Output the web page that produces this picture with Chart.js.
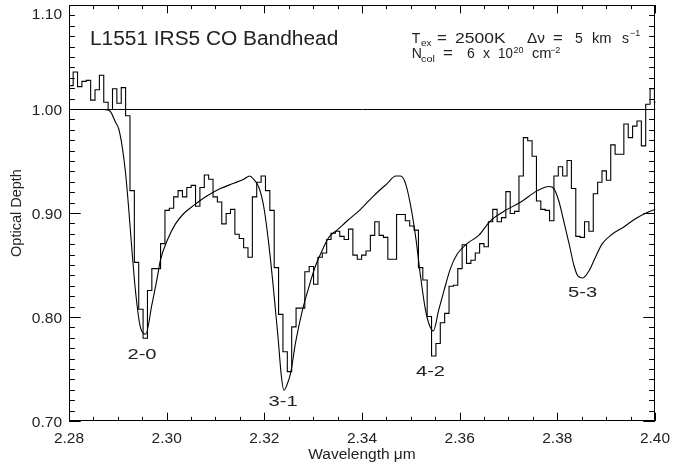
<!DOCTYPE html>
<html>
<head>
<meta charset="utf-8">
<script src="https://cdn.jsdelivr.net/npm/chart.js@4.4.1/dist/chart.umd.min.js"></script>
<style>
  html, body { margin: 0; padding: 0; background: #fff; }
  canvas { display: block; }
</style>
</head>
<body>
<canvas id="co-chart" width="673" height="468"></canvas>
<script>
// --- DATA ---
// observed spectrum, bin centres (um) and optical depth per bin
const wavelengths = [
  2.27941, 2.28030, 2.28120, 2.28209, 2.28299, 2.28388, 2.28478, 2.28567, 2.28657, 2.28746,
  2.28836, 2.28925, 2.29015, 2.29104, 2.29194, 2.29283, 2.29373, 2.29462, 2.29552, 2.29641,
  2.29731, 2.29820, 2.29910, 2.29999, 2.30089, 2.30178, 2.30268, 2.30357, 2.30447, 2.30536,
  2.30626, 2.30715, 2.30805, 2.30894, 2.30984, 2.31073, 2.31163, 2.31252, 2.31342, 2.31431,
  2.31521, 2.31610, 2.31700, 2.31789, 2.31879, 2.31968, 2.32058, 2.32147, 2.32237, 2.32326,
  2.32416, 2.32505, 2.32595, 2.32684, 2.32774, 2.32863, 2.32953, 2.33042, 2.33132, 2.33221,
  2.33311, 2.33400, 2.33490, 2.33579, 2.33669, 2.33758, 2.33848, 2.33937, 2.34027, 2.34116,
  2.34206, 2.34295, 2.34385, 2.34474, 2.34564, 2.34653, 2.34743, 2.34832, 2.34922, 2.35011,
  2.35101, 2.35190, 2.35280, 2.35369, 2.35459, 2.35548, 2.35638, 2.35727, 2.35817, 2.35906,
  2.35996, 2.36085, 2.36175, 2.36264, 2.36354, 2.36443, 2.36533, 2.36622, 2.36712, 2.36801,
  2.36891, 2.36980, 2.37070, 2.37159, 2.37249, 2.37338, 2.37428, 2.37517, 2.37607, 2.37696,
  2.37786, 2.37875, 2.37965, 2.38054, 2.38144, 2.38233, 2.38323, 2.38412, 2.38502, 2.38591,
  2.38681, 2.38770, 2.38860, 2.38949, 2.39039, 2.39128, 2.39218, 2.39307, 2.39397, 2.39486,
  2.39576, 2.39665, 2.39755, 2.39844, 2.39934, 2.40023
];
const opticalDepth = [
  1.023, 1.023, 1.036, 1.022, 1.027, 1.028, 1.009, 1.019, 1.033, 1.007,
  1.000, 1.020, 1.006, 1.021, 0.994, 0.922, 0.853, 0.808, 0.780, 0.826,
  0.847, 0.847, 0.871, 0.903, 0.905, 0.916, 0.922, 0.916, 0.925, 0.927,
  0.907, 0.925, 0.937, 0.933, 0.916, 0.911, 0.890, 0.900, 0.904, 0.880,
  0.876, 0.867, 0.858, 0.916, 0.930, 0.936, 0.922, 0.903, 0.848, 0.803,
  0.767, 0.748, 0.791, 0.809, 0.809, 0.844, 0.849, 0.832, 0.858, 0.862,
  0.875, 0.881, 0.883, 0.878, 0.875, 0.885, 0.860, 0.856, 0.860, 0.864,
  0.879, 0.892, 0.879, 0.877, 0.856, 0.856, 0.899, 0.899, 0.893, 0.888,
  0.884, 0.848, 0.836, 0.801, 0.763, 0.775, 0.795, 0.804, 0.830, 0.831,
  0.847, 0.870, 0.852, 0.855, 0.862, 0.871, 0.868, 0.892, 0.904, 0.892,
  0.896, 0.921, 0.900, 0.902, 0.936, 0.973, 0.970, 0.955, 0.912, 0.904,
  0.903, 0.893, 0.936, 0.945, 0.936, 0.951, 0.924, 0.878, 0.877, 0.892,
  0.883, 0.919, 0.930, 0.941, 0.932, 0.966, 0.957, 0.957, 0.986, 0.973,
  0.984, 0.989, 0.965, 1.005, 1.020, 1.007
];

// model (Tex = 2500K, dv = 5 km/s, Ncol = 6e20)
const modelWave = [
  2.2800, 2.2870, 2.2878, 2.2884, 2.2894, 2.2901, 2.2908, 2.2915, 2.2921, 2.2928,
  2.2935, 2.2945, 2.2956, 2.2969, 2.2980, 2.2986, 2.3000, 2.3017, 2.3034, 2.3055,
  2.3082, 2.3109, 2.3136, 2.3157, 2.3169, 2.3177, 2.3188, 2.3198, 2.3208, 2.3218,
  2.3227, 2.3234, 2.3239, 2.3246, 2.3253, 2.3263, 2.3277, 2.3290, 2.3304, 2.3317,
  2.3331, 2.3348, 2.3369, 2.3396, 2.3423, 2.3451, 2.3468, 2.3478, 2.3488, 2.3498,
  2.3509, 2.3519, 2.3529, 2.3536, 2.3545, 2.3556, 2.3567, 2.3580, 2.3594, 2.3614,
  2.3638, 2.3662, 2.3689, 2.3724, 2.3758, 2.3782, 2.3792, 2.3802, 2.3812, 2.3823,
  2.3833, 2.3841, 2.3851, 2.3864, 2.3877, 2.3891, 2.3911, 2.3935, 2.3959, 2.3983,
  2.4000
];
const modelDepth = [
  1.000, 1.000, 0.9995, 0.998, 0.988, 0.981, 0.964, 0.938, 0.906, 0.864,
  0.826, 0.791, 0.784, 0.813, 0.839, 0.855, 0.874, 0.890, 0.900, 0.908,
  0.917, 0.924, 0.929, 0.933, 0.936, 0.933, 0.925, 0.906, 0.871, 0.826,
  0.781, 0.743, 0.730, 0.736, 0.747, 0.776, 0.807, 0.829, 0.850, 0.864,
  0.877, 0.884, 0.893, 0.904, 0.917, 0.929, 0.936, 0.936, 0.929, 0.909,
  0.877, 0.839, 0.807, 0.794, 0.787, 0.807, 0.826, 0.847, 0.861, 0.871,
  0.879, 0.893, 0.902, 0.911, 0.922, 0.926, 0.924, 0.912, 0.893, 0.871,
  0.850, 0.840, 0.838, 0.845, 0.858, 0.871, 0.880, 0.887, 0.895, 0.901,
  0.904
];

const continuumLevel = 1.00;

// band head labels
const bandLabels = ['2-0', '3-1', '4-2', '5-3'];
const bandWave = [2.29495, 2.32383, 2.35403, 2.38516];
const bandDepth = [0.7596, 0.7144, 0.7428, 0.8192];

// axis ticks
const xTicks = [2.28, 2.30, 2.32, 2.34, 2.36, 2.38, 2.40];
const yTicks = [0.70, 0.80, 0.90, 1.00, 1.10];
const xMinorStep = 0.005;
const yMinorStep = 0.01;

const FONT = '"Liberation Sans", Arial, sans-serif';

// --- HELPERS ---
const drawText = (ctx, str, x, y, size, align = 'left', sx = 1, rot = 0) => {
    ctx.save();
    ctx.font = size + 'px ' + FONT;
    ctx.textAlign = align;
    ctx.textBaseline = 'alphabetic';
    ctx.translate(x, y);
    if (rot) ctx.rotate(rot);
    ctx.scale(sx, 1);
    ctx.fillText(str, 0, 0);
    ctx.restore();
};

// half pixel shift so 1px lines on whole pixel values stay crisp
const crispLines = {
    id: 'crispLines',
    beforeDatasetsDraw(chart) { chart.ctx.save(); chart.ctx.translate(0.5, 0.5); },
    afterDatasetsDraw(chart) { chart.ctx.restore(); }
};

// --- IDL STYLE FRAME, TICKS AND TEXT ---
const idlFrame = {
    id: 'idlFrame',
    afterDraw(chart) {
        const { ctx, chartArea: a, scales: { x, y } } = chart;
        ctx.save();
        ctx.strokeStyle = '#000';
        ctx.fillStyle = '#222';
        ctx.lineWidth = 1;
        ctx.strokeRect(a.left + 0.5, a.top + 0.5, a.right - a.left - 1, a.bottom - a.top - 1);

        const xLen = 0.02 * (a.bottom - a.top);
        const yLen = 0.02 * (a.right - a.left);
        const tickX = (v, len) => {
            const px = Math.round(x.getPixelForValue(v)) + 0.5;
            ctx.beginPath();
            ctx.moveTo(px, a.bottom); ctx.lineTo(px, a.bottom - len);
            ctx.moveTo(px, a.top); ctx.lineTo(px, a.top + len);
            ctx.stroke();
        };
        const tickY = (v, len) => {
            const py = Math.round(y.getPixelForValue(v)) + 0.5;
            ctx.beginPath();
            ctx.moveTo(a.left, py); ctx.lineTo(a.left + len, py);
            ctx.moveTo(a.right, py); ctx.lineTo(a.right - len, py);
            ctx.stroke();
        };
        for (let k = 0; 2.28 + k * xMinorStep <= 2.4001; k++) tickX(2.28 + k * xMinorStep, k % 4 ? xLen / 2 : xLen);
        for (let k = 0; 0.70 + k * yMinorStep <= 1.1001; k++) tickY(0.70 + k * yMinorStep, k % 10 ? yLen / 2 : yLen);

        // tick labels
        xTicks.forEach(v => drawText(ctx, v.toFixed(2), x.getPixelForValue(v), a.bottom + 22, 15.5, 'center'));
        yTicks.forEach(v => {
            const base = Math.max(y.getPixelForValue(v) + 6, a.top + 13.5);
            drawText(ctx, v.toFixed(2), a.left - 7, base, 15.5, 'right');
        });

        // axis titles
        drawText(ctx, 'Wavelength \u03BCm', (a.left + a.right) / 2, 458.5, 15.5, 'center');
        drawText(ctx, 'Optical Depth', 21, (a.top + a.bottom) / 2, 14.5, 'center', 1, -Math.PI / 2);

        // band head labels
        bandLabels.forEach((t, i) => {
            drawText(ctx, t, x.getPixelForValue(bandWave[i]), y.getPixelForValue(bandDepth[i]), 15.5, 'center', 1.3);
        });

        // title and model parameters: [text, left x, 0 normal / 1 sub / 2 sup, x stretch]
        drawText(ctx, 'L1551 IRS5 CO Bandhead', 90, 44.8, 19.5, 'left', 1.07);
        const line1 = [['T', 411.7, 0, 1], ['ex', 421, 1, 1.1], ['=', 437, 0, 1.2], ['2500K', 455, 0, 1.25],
                       ['\u0394\u03BD', 527, 0, 1.1], ['=', 553, 0, 1.2], ['5', 575, 0, 1], ['km', 592, 0, 1.05],
                       ['s', 622, 0, 1], ['\u22121', 630, 2, 1]];
        const line2 = [['N', 411.7, 0, 1], ['col', 421, 1, 1.2], ['=', 443, 0, 1.2], ['6', 467, 0, 1],
                       ['x', 483, 0, 1], ['10', 498, 0, 0.95], ['20', 513.5, 2, 1], ['cm', 532, 0, 1.05],
                       ['\u22122', 550, 2, 1]];
        const drawLine = (parts, base, supUp) => parts.forEach(([t, px, kind, sx]) => {
            if (kind === 0) drawText(ctx, t, px, base, 14, 'left', sx);
            else if (kind === 1) drawText(ctx, t, px, base + 3.3, 9, 'left', sx);
            else drawText(ctx, t, px, base - supUp, 9, 'left', sx);
        });
        drawLine(line1, 42.7, 6.7);
        drawLine(line2, 58.3, 5.8);
        ctx.restore();
    }
};

// --- CHART SETUP ---
const ctx = document.getElementById('co-chart').getContext('2d');
new Chart(ctx, {
    type: 'line',
    data: {
        datasets: [
            {
                label: 'Continuum',
                data: [{ x: 2.28, y: continuumLevel }, { x: 2.40, y: continuumLevel }],
                borderColor: '#000', borderWidth: 1, pointRadius: 0
            },
            {
                label: 'Model',
                data: modelWave.map((w, i) => ({ x: w, y: modelDepth[i] })),
                borderColor: '#000', borderWidth: 1.1, pointRadius: 0,
                cubicInterpolationMode: 'monotone'
            },
            {
                label: 'L1551 IRS5',
                data: wavelengths.map((w, i) => ({ x: w, y: opticalDepth[i] })),
                borderColor: '#000', borderWidth: 1.1, pointRadius: 0,
                stepped: 'middle', clip: 0
            }
        ]
    },
    options: {
        responsive: false,
        animation: false,
        layout: { padding: { left: 69, right: 18, top: 5, bottom: 47 } },
        scales: {
            x: { type: 'linear', min: 2.28, max: 2.40, display: false },
            y: { type: 'linear', min: 0.70, max: 1.10, display: false }
        },
        plugins: { legend: { display: false }, tooltip: { enabled: false } }
    },
    plugins: [crispLines, idlFrame]
});
</script>
</body>
</html>
